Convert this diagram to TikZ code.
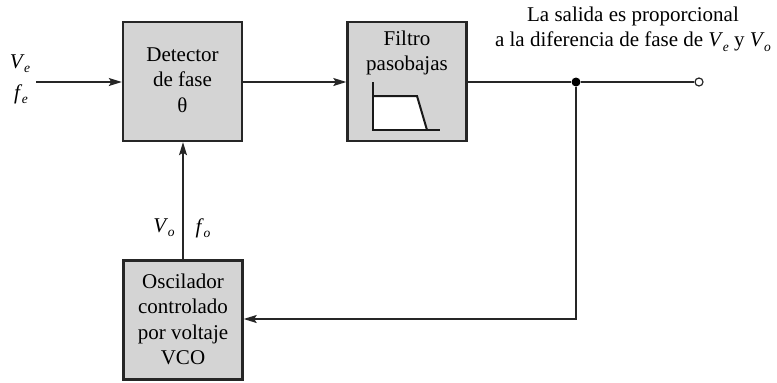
\documentclass[tikz,border=0pt]{standalone}
\usepackage{fontspec}
\setmainfont{Liberation Serif}
\usetikzlibrary{arrows.meta}
\newcommand\vsym[2]{\textit{#1}\kern-0.5pt\raisebox{-0.45ex}{\fontsize{13.5}{13.5}\selectfont\textit{#2}}}
\begin{document}
\begin{tikzpicture}[x=1pt,y=-1pt,
  blk/.style={draw=black!85, line width=2.4pt, fill=black!17, minimum width=119pt, minimum height=119pt, inner sep=0pt},
  txt/.style={font=\fontsize{21}{25.5}\selectfont, align=center, inner sep=0pt},
  wire/.style={line width=1.2pt, draw=black!85},
  arr/.style={wire, -{Stealth[length=13pt,width=8pt,inset=2.5pt]}}]
\useasboundingbox (0,0) rectangle (777,383);
\node[blk] (det) at (182.5,81.5) {};
\node[blk] (fil) at (407,81.5) {};
\node[blk] (vco) at (183,320) {};
\node[txt] (dett) at (182.5,80) {Detector\\de fase\\θ};
\node[txt] (filt) at (407,53) {Filtro\\pasobajas};
\node[txt] (vcot) at (183,319.5) {Oscilador\\controlado\\por voltaje\\VCO};
% filter icon
\coordinate (ia) at (373,82);
\coordinate (ib) at (373,96);
\coordinate (ic) at (417,96);
\coordinate (id) at (427,130);
\coordinate (ie) at (440,130);
\coordinate (ig) at (373,130);
\fill[white] (ib) -- (ic) -- (id) -- (ig) -- cycle;
\draw[line width=1.6pt, draw=black!90] (ia) -- (ig) -- (ie);
\draw[line width=2pt, draw=black!90] (ib) -- (ic) -- (id);
% input
\coordinate (in) at (36,82);
\node[txt, anchor=center] (ve) at (20,64) {\vsym{V}{e}};
\node[txt, anchor=center] (fe) at (21,94) {\vsym{f}{e}};
\draw[arr] (in) -- (det.west |- in);
\draw[arr] (det.east |- in) -- (fil.west |- in);
% output
\node[circle, fill=black, inner sep=0pt, minimum size=9pt] (dot) at (576,82) {};
\node[circle, draw=black!85, fill=white, line width=1.2pt, inner sep=0pt, minimum size=8pt] (out) at (699,82) {};
\draw[wire] (fil.east |- dot) -- (dot) -- (out);
\node[txt] (lbl) at (633,29) {La salida es proporcional\\a la diferencia de fase de \vsym{V}{e} y \vsym{V}{o}};
% feedback
\coordinate (cr) at (576,319);
\draw[arr] (dot) -- (cr) -- (vco.east |- cr);
\draw[arr] (vco.north) -- (det.south -| vco.north);
\node[txt] (vo) at (164,228) {\vsym{V}{o}};
\node[txt] (fo) at (203,228) {\vsym{f}{o}};
\end{tikzpicture}
\end{document}
